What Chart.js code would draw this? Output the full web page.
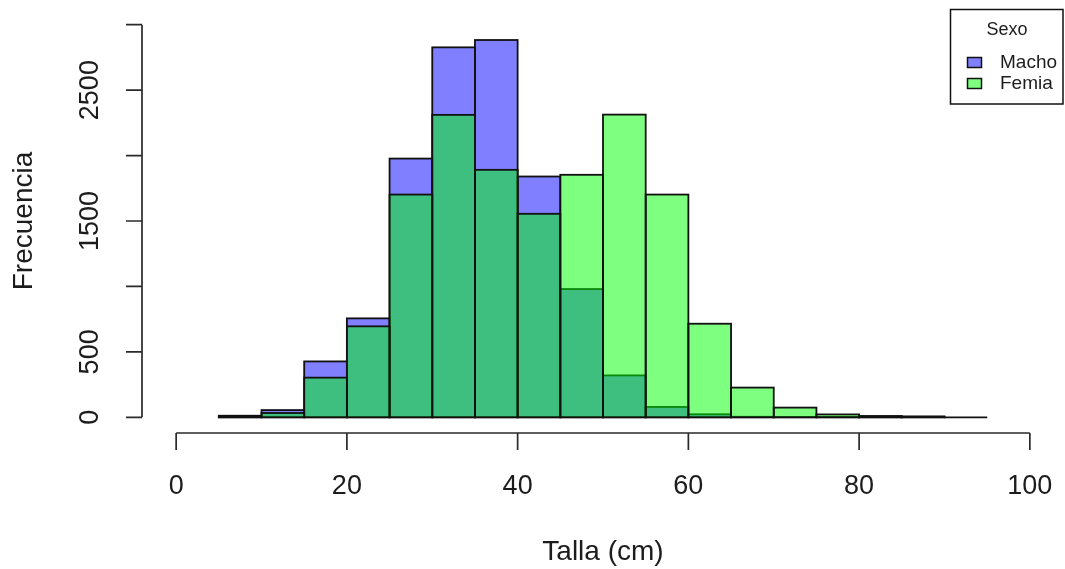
<!DOCTYPE html>
<html>
<head>
<meta charset="utf-8">
<script src="https://cdn.jsdelivr.net/npm/chart.js@4/dist/chart.umd.min.js"></script>
<style>
  html, body { margin: 0; padding: 0; background: #fff; }
  canvas { display: block; }
</style>
</head>
<body>
<canvas id="hist" width="1065" height="569"></canvas>
<script>
// Talla classes (cm): midpoints of the 5 cm classes from 5 to 95
const tallaMid = [7.5, 12.5, 17.5, 22.5, 27.5, 32.5, 37.5, 42.5, 47.5, 52.5, 57.5, 62.5, 67.5, 72.5, 77.5, 82.5, 87.5, 92.5];
// Counts per class
const macho = [12, 55, 427, 756, 1977, 2827, 2883, 1840, 980, 320, 79, 23, 4, 2, 3, 4, 3, null];
const femia = [8, 33, 303, 695, 1702, 2311, 1891, 1555, 1853, 2313, 1702, 715, 227, 74, 22, 10, 7, 0];
const seriesNames = ['Macho', 'Femia'];
const legendTitle = 'Sexo';
const xTicks = [0, 20, 40, 60, 80, 100];
const yTicks = [0, 500, 1000, 1500, 2000, 2500, 3000];
const yTickLabels = ['0', '500', '', '1500', '', '2500', ''];
const xTitle = 'Talla (cm)';
const yTitle = 'Frecuencia';

const FONT = '"Liberation Sans", Arial, sans-serif';
const INK = '#1c1c1c';

function toPoints(values) {
  const pts = [];
  values.forEach((v, i) => { if (v !== null) pts.push({ x: tallaMid[i], y: v }); });
  return pts;
}

// Black outline around each bar, drawn right after its own dataset
const barOutlines = {
  id: 'barOutlines',
  afterDatasetDraw(chart, args) {
    const ctx = chart.ctx;
    const a = chart.chartArea;
    ctx.save();
    ctx.beginPath();
    ctx.rect(a.left, a.top, a.right - a.left, a.bottom - a.top);
    ctx.clip();
    ctx.lineWidth = 1.8;
    ctx.strokeStyle = '#111';
    args.meta.data.forEach(bar => {
      const p = bar.getProps(['x', 'y', 'base', 'width'], true);
      ctx.strokeRect(p.x - p.width / 2, Math.min(p.y, p.base), p.width, Math.abs(p.base - p.y));
    });
    ctx.restore();
  }
};

// Detached axes, axis titles and boxed legend
const decorations = {
  id: 'decorations',
  afterDraw(chart) {
    const { ctx, chartArea: a, scales: { x, y } } = chart;
    ctx.save();
    ctx.strokeStyle = '#2a2a2a';
    ctx.lineWidth = 1.7;
    ctx.fillStyle = INK;

    // x axis
    const xa = a.bottom;
    ctx.beginPath();
    ctx.moveTo(x.getPixelForValue(xTicks[0]), xa);
    ctx.lineTo(x.getPixelForValue(xTicks[xTicks.length - 1]), xa);
    xTicks.forEach(v => {
      const px = x.getPixelForValue(v);
      ctx.moveTo(px, xa);
      ctx.lineTo(px, xa + 17);
    });
    ctx.stroke();
    ctx.font = '27px ' + FONT;
    ctx.textAlign = 'center';
    ctx.textBaseline = 'middle';
    xTicks.forEach(v => ctx.fillText(String(v), x.getPixelForValue(v), 487));

    // y axis
    const ya = a.left;
    ctx.beginPath();
    ctx.moveTo(ya, y.getPixelForValue(yTicks[0]));
    ctx.lineTo(ya, y.getPixelForValue(yTicks[yTicks.length - 1]));
    yTicks.forEach(v => {
      const py = y.getPixelForValue(v);
      ctx.moveTo(ya, py);
      ctx.lineTo(ya - 16, py);
    });
    ctx.stroke();
    yTicks.forEach((v, i) => {
      if (!yTickLabels[i]) return;
      ctx.save();
      ctx.translate(91, y.getPixelForValue(v));
      ctx.rotate(-Math.PI / 2);
      ctx.fillText(yTickLabels[i], 0, 0);
      ctx.restore();
    });

    // axis titles
    ctx.font = '28px ' + FONT;
    ctx.fillText(xTitle, (a.left + a.right) / 2, 552);
    ctx.save();
    ctx.translate(24, (a.top + a.bottom) / 2);
    ctx.rotate(-Math.PI / 2);
    ctx.fillText(yTitle, 0, 0);
    ctx.restore();

    // legend
    ctx.lineWidth = 1.5;
    ctx.strokeStyle = '#111';
    ctx.fillStyle = '#fff';
    ctx.fillRect(950, 9, 113, 95);
    ctx.strokeRect(950.5, 9.5, 112.5, 94.5);
    ctx.fillStyle = INK;
    ctx.font = '18px ' + FONT;
    ctx.textAlign = 'center';
    ctx.fillText(legendTitle, 1007, 30);
    ctx.textAlign = 'left';
    ctx.font = '19px ' + FONT;
    chart.data.datasets.forEach((ds, i) => {
      const cy = 62 + i * 21;
      ctx.fillStyle = '#fff';
      ctx.fillRect(967, cy - 5, 15, 11);
      ctx.fillStyle = ds.backgroundColor;
      ctx.fillRect(967, cy - 5, 15, 11);
      ctx.strokeRect(967.5, cy - 4.5, 14, 10);
      ctx.fillStyle = INK;
      ctx.fillText(ds.label, 1000, cy + 1);
    });
    ctx.restore();
  }
};

const barStyle = {
  borderWidth: 0,
  grouped: false,
  barPercentage: 1,
  categoryPercentage: 1
};

new Chart(document.getElementById('hist'), {
  type: 'bar',
  data: {
    datasets: [
      Object.assign({
        label: seriesNames[0],
        data: toPoints(macho),
        backgroundColor: 'rgba(0, 0, 255, 0.5)',
        order: 2
      }, barStyle),
      Object.assign({
        label: seriesNames[1],
        data: toPoints(femia),
        backgroundColor: 'rgba(0, 255, 0, 0.5)',
        order: 1
      }, barStyle)
    ]
  },
  options: {
    responsive: false,
    animation: false,
    devicePixelRatio: 1,
    layout: { padding: { left: 142, right: 1, top: 9, bottom: 136 } },
    scales: {
      x: {
        type: 'linear', min: -4, max: 104, offset: false, display: false,
        // axis is drawn by the decorations plugin; no internal ticks so bar width = class width
        afterBuildTicks(scale) { scale.ticks = []; }
      },
      y: { type: 'linear', min: -120, max: 3120, display: false }
    },
    plugins: {
      legend: { display: false },
      tooltip: { enabled: false }
    }
  },
  plugins: [barOutlines, decorations]
});
</script>
</body>
</html>
